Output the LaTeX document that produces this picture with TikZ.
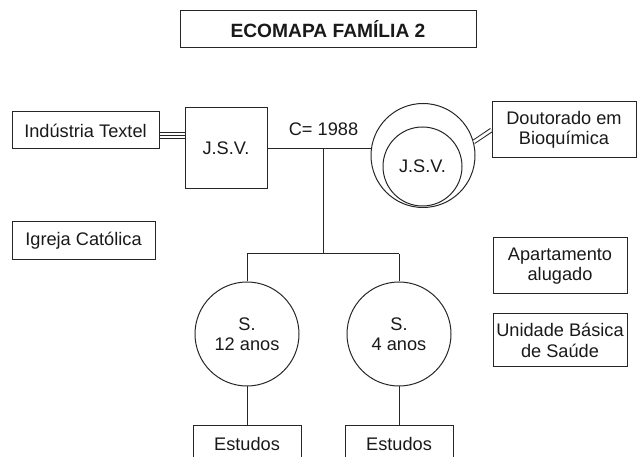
\documentclass[tikz,border=0pt]{standalone}
\usepackage{fontspec}
\setmainfont{Liberation Sans}
\begin{document}
\begin{tikzpicture}[x=1pt,y=-1pt,
  ln/.style={line width=1pt, draw=black!85},
  txt/.style={font=\fontsize{18.2}{20.5}\selectfont, text=black!90, align=center, inner sep=0pt},
  box/.style={txt, draw=black!85, line width=1pt, rectangle, anchor=center},
  circ/.style={txt, draw=black!85, line width=1pt, circle, anchor=center}]
\useasboundingbox (0,0) rectangle (641,457);
% title
\node[box, minimum width=296, minimum height=37, font=\fontsize{19.2}{20}\selectfont\bfseries] (title) at (328,29.5) {ECOMAPA FAMÍLIA 2};
% left side
\node[box, minimum width=147, minimum height=37] (ind) at (85.5,130.5) {Indústria Textel};
\node[box, minimum width=143, minimum height=38] (igr) at (83.5,241) {Igreja Católica};
\node[box, minimum width=82, minimum height=81] (jsv) at (226,148.5) {J.S.V.};
% right J.S.V.
\node[circ, minimum size=104] (outer) at (423,155.5) {};
\node[circ, minimum size=79] (inner) at (422.5,166.5) {J.S.V.};
% right side boxes
\node[box, minimum width=144, minimum height=56] (dout) at (564,130) {Doutorado em\\Bioquímica};
\node[box, minimum width=134, minimum height=56] (apt) at (560,266) {Apartamento\\alugado};
\node[box, minimum width=134, minimum height=53] (ubs) at (560,340.5) {Unidade Básica\\de Saúde};
% children
\node[circ, minimum size=104] (s12) at (247,334) {S.\\12 anos};
\node[circ, minimum size=104] (s4) at (399,334) {S.\\4 anos};
\node[box, minimum width=108, minimum height=36] (est1) at (247,444) {Estudos};
\node[box, minimum width=108, minimum height=36] (est2) at (399,444) {Estudos};
% marriage label
\node[txt] (c) at (323.5,129) {C= 1988};
% connectors
\coordinate (m) at (323,149);
\coordinate (h) at (323,254);
\draw[ln] (jsv.east |- m) -- (outer.west |- m);
\draw[ln] (m) -- (h);
\draw[ln] (s12.north |- h) -- (s4.north |- h);
\draw[ln] (s12.north |- h) -- (s12.north);
\draw[ln] (s4.north |- h) -- (s4.north);
\draw[ln] (s12.south) -- (est1.north);
\draw[ln] (s4.south) -- (est2.north);
% triple line industria - jsv
\coordinate (tl) at (0,135.3);
\draw[ln, double=white, double distance=4.8pt] (ind.east |- tl) -- (jsv.west |- tl);
\draw[ln] (ind.east |- tl) -- (jsv.west |- tl);
% double line outer - doutorado
\draw[ln, double=white, double distance=2.6pt] (outer.15) -- (dout.west);
\end{tikzpicture}
\end{document}
